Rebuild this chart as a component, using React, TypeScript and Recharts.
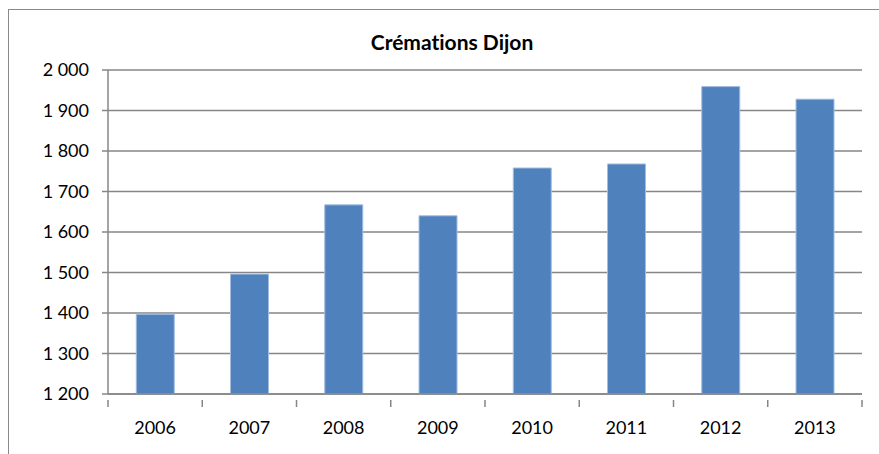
import React from "react";
import { BarChart, Bar, XAxis, YAxis, CartesianGrid } from "recharts";

const years = ["2006", "2007", "2008", "2009", "2010", "2011", "2012", "2013"];
const cremations = [1397, 1496, 1667, 1640, 1758, 1768, 1959, 1928];
const yTicks = [1200, 1300, 1400, 1500, 1600, 1700, 1800, 1900, 2000];
const title = "Crémations Dijon";

const data = years.map((y, i) => ({ year: y, value: cremations[i] }));

const W = 879;
const H = 454;
const M = { top: 70, right: 17, bottom: 30, left: 0 };
const YW = 108;
const BAND = (W - M.right - YW) / years.length;
const AXIS = "#868686";
const FONT = "Lato, 'Open Sans', sans-serif";

const fmt = (v: number) => {
  const s = String(v);
  return s.length > 3 ? s.slice(0, s.length - 3) + " " + s.slice(-3) : s;
};

const XTick = (props: any) => {
  const { x, y, payload, index } = props;
  const half = BAND / 2;
  return (
    <g>
      <line x1={x - half} x2={x - half} y1={y - 2} y2={y + 5} stroke={AXIS} strokeWidth={1.5} />
      {index === years.length - 1 && (
        <line x1={x + half} x2={x + half} y1={y - 2} y2={y + 5} stroke={AXIS} strokeWidth={1.5} />
      )}
      <text x={x} y={y + 19} dy="0.71em" textAnchor="middle" fill="#000" fontSize={18} fontFamily={FONT}>
        {payload.value}
      </text>
    </g>
  );
};

export default function App() {
  return (
    <div style={{ position: "absolute", left: 0, top: 0, width: W, height: H, background: "#fff", overflow: "hidden" }}>
      <div
        style={{
          position: "absolute",
          left: 8,
          top: 9,
          width: W,
          height: H,
          borderLeft: "1.5px solid #8a8a8a",
          borderTop: "1.5px solid #8a8a8a",
        }}
      />
      <div
        style={{
          position: "absolute",
          left: 0,
          width: 904,
          top: 30,
          lineHeight: "24px",
          textAlign: "center",
          fontFamily: FONT,
          fontWeight: 700,
          fontSize: 21,
          fontVariantLigatures: "none",
          fontFeatureSettings: '"liga" 0',
          color: "#000",
        }}
      >
        {title}
      </div>
      <div style={{ position: "absolute", left: 0, top: 0 }}>
        <BarChart width={W} height={H} data={data} margin={M} barCategoryGap="30%">
          <CartesianGrid vertical={false} stroke={AXIS} strokeWidth={1.5} />
          <XAxis
            dataKey="year"
            height={30}
            axisLine={{ stroke: AXIS, strokeWidth: 1.5 }}
            tickLine={false}
            tick={<XTick />}
            interval={0}
          />
          <YAxis
            width={YW}
            domain={[1200, 2000]}
            ticks={yTicks}
            interval={0}
            tickFormatter={fmt}
            axisLine={{ stroke: AXIS, strokeWidth: 1.5 }}
            tickLine={{ stroke: AXIS, strokeWidth: 1.5 }}
            tickSize={6}
            tickMargin={13}
            tick={{ fill: "#000", fontSize: 18, fontFamily: FONT }}
          />
          <Bar dataKey="value" fill="#4F81BD" stroke="#a3bde0" strokeWidth={1} isAnimationActive={false} />
        </BarChart>
      </div>
    </div>
  );
}
